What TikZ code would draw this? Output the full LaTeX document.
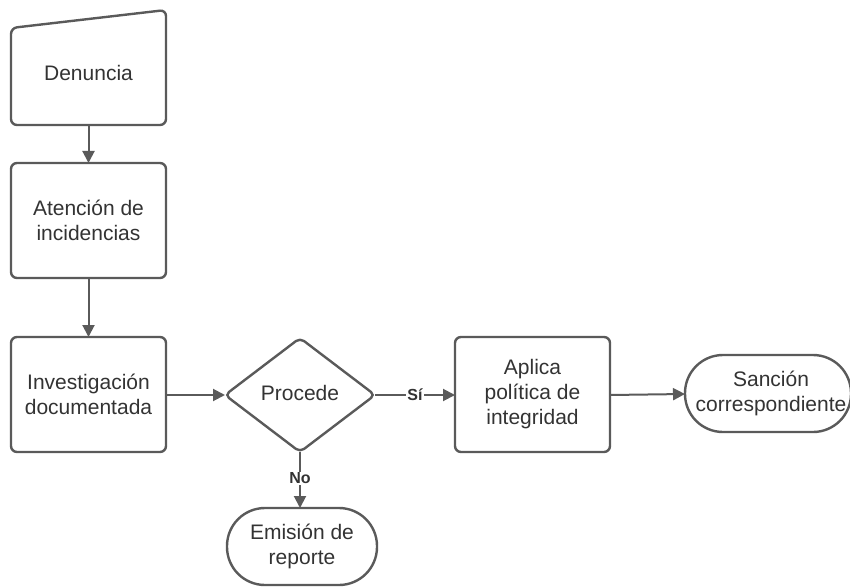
\documentclass[tikz,border=0pt]{standalone}
\usepackage{fontspec}
\setmainfont{Liberation Sans}
\usetikzlibrary{arrows.meta,shapes.geometric}
\definecolor{ln}{HTML}{5A5A5A}
\definecolor{tx}{HTML}{333333}
\tikzset{
  lbl/.style={font=\fontsize{21}{25}\selectfont, text=tx, align=center},
  boxs/.style={draw=ln, line width=2.4pt, rounded corners=6pt, fill=white},
  con/.style={draw=ln, line width=2pt, -{Triangle[length=12pt,width=12pt]}},
  edgelbl/.style={font=\fontsize{16}{18}\selectfont\bfseries, text=tx, fill=white, inner sep=1pt}
}
\begin{document}
\begin{tikzpicture}[x=1pt,y=-1pt]
\useasboundingbox (0,0) rectangle (850,588);
\clip (0,0) rectangle (850,588);
% Denuncia manual input
\draw[boxs] (11,28) -- (166,10) -- (166,125) -- (11,125) -- cycle;
\node[lbl] (den) at (88.5,73) {Denuncia};
\coordinate (denb) at (88.5,125);
% Atencion
\draw[boxs] (11,163) rectangle (166,278);
\node[lbl] (ate) at (88.5,220.5) {Atención de\\incidencias};
\coordinate (atet) at (88.5,163);
\coordinate (ateb) at (88.5,278);
% Investigacion
\draw[boxs] (11,337) rectangle (166,452);
\node[lbl] (inv) at (88.5,394.5) {Investigación\\documentada};
\coordinate (invt) at (88.5,337);
\coordinate (invr) at (166,395);
% diamond
\draw[boxs, rounded corners=5pt] (225,395) -- (300,338) -- (375,395) -- (300,452) -- cycle;
\node[lbl] (pro) at (300,393) {Procede};
\coordinate (prol) at (225,395);
\coordinate (pror) at (375,395);
\coordinate (prob) at (300,452);
% Aplica
\draw[boxs] (455,337) rectangle (610,452);
\node[lbl] (apl) at (532.5,394.5) {Aplica\\política de\\integridad};
\coordinate (apll) at (455,395);
\coordinate (aplr) at (610,395);
% Sancion
\draw[boxs, rounded corners=38pt] (685,355) rectangle (851,432);
\node[lbl] (san) at (771,393.5) {Sanción\\correspondiente};
\coordinate (sanl) at (685,394);
% Emision
\draw[boxs, rounded corners=38pt] (227,508) rectangle (377,585);
\node[lbl] (emi) at (302,546.5) {Emisión de\\reporte};
\coordinate (emit) at (300,508);
% connectors
\draw[con] (denb) -- (atet);
\draw[con] (ateb) -- (invt);
\draw[con] (invr) -- (prol);
\draw[con] (pror) -- node[edgelbl, pos=0.5] (si) {Sí} (apll);
\draw[con] (aplr) -- (sanl);
\draw[con] (prob) -- node[edgelbl, pos=0.47] (no) {No} (emit);
\end{tikzpicture}
\end{document}
